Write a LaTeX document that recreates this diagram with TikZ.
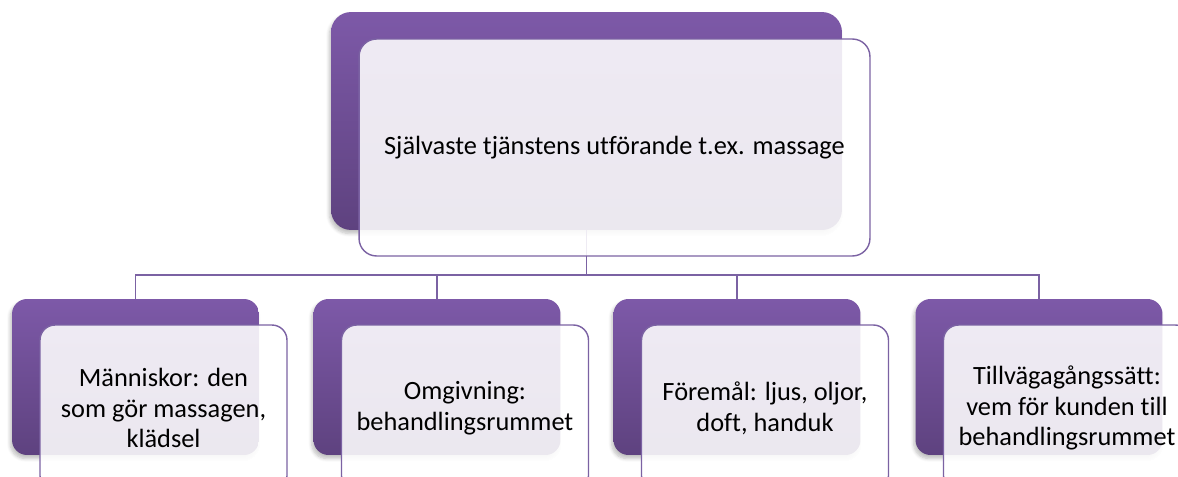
\documentclass[tikz,border=0pt]{standalone}
\usepackage{fontspec}
\setmainfont{Carlito}[Ligatures=NoCommon]
\usetikzlibrary{shadows.blur}

\definecolor{lila}{HTML}{7D59A8}
\definecolor{lilamork}{HTML}{5E427F}
\definecolor{lilalinje}{HTML}{7B62A3}

\begin{document}
\begin{tikzpicture}[
	x=0.02cm, y=-0.02cm,
	bak/.style={rectangle, rounded corners=0.3cm, top color=lila, bottom color=lilamork, minimum width=4.94cm, minimum height=3.12cm,
		blur shadow={shadow xshift=-1pt, shadow yshift=-2pt, shadow blur steps=6, shadow opacity=25}},
	fram/.style={draw=lilalinje, line width=0.8pt, rectangle, rounded corners=0.3cm, fill=white, fill opacity=0.88, text opacity=1,
		minimum width=4.94cm, minimum height=3.32cm, inner sep=0pt, align=center, font=\fontsize{15}{17.5}\selectfont},
	linje/.style={draw=lilalinje, line width=0.7pt}
	]
	\useasboundingbox (0,0) rectangle (1178,477);
	\clip (0,0) rectangle (1178,477);

	% toppen
	\node[bak, rounded corners=0.4cm, minimum width=10.22cm, minimum height=4.36cm] (topp) at (586.5,121) {};

	% nedre rutor
	\node[bak] (b1) at (135.5,377) {};
	\node[bak] (b2) at (437,377) {};
	\node[bak] (b3) at (737,377) {};
	\node[bak] (b4) at (1039,377) {};

	% linjer
	\coordinate (gren) at (586.5,275);
	\draw[linje] (topp.south) -- (gren);
	\draw[linje] (gren) -| (b1.north);
	\draw[linje] (gren) -| (b2.north);
	\draw[linje] (gren) -| (b3.north);
	\draw[linje] (gren) -| (b4.north);

	\node[fram, rounded corners=0.35cm, minimum width=10.22cm, minimum height=4.34cm] (topptext) at (614.5,147.5) {Självaste tjänstens utförande t.ex. massage};

	\node[fram] (f1) at (163.5,408) {Människor: den\\som gör massagen,\\klädsel};
	\node[fram] (f2) at (465,408) {Omgivning:\\behandlingsrummet};
	\node[fram] (f3) at (765,408) {Föremål: ljus, oljor,\\doft, handuk};
	\node[fram] (f4) at (1067,408) {Tillvägagångssätt:\\vem för kunden till\\behandlingsrummet};
\end{tikzpicture}
\end{document}
